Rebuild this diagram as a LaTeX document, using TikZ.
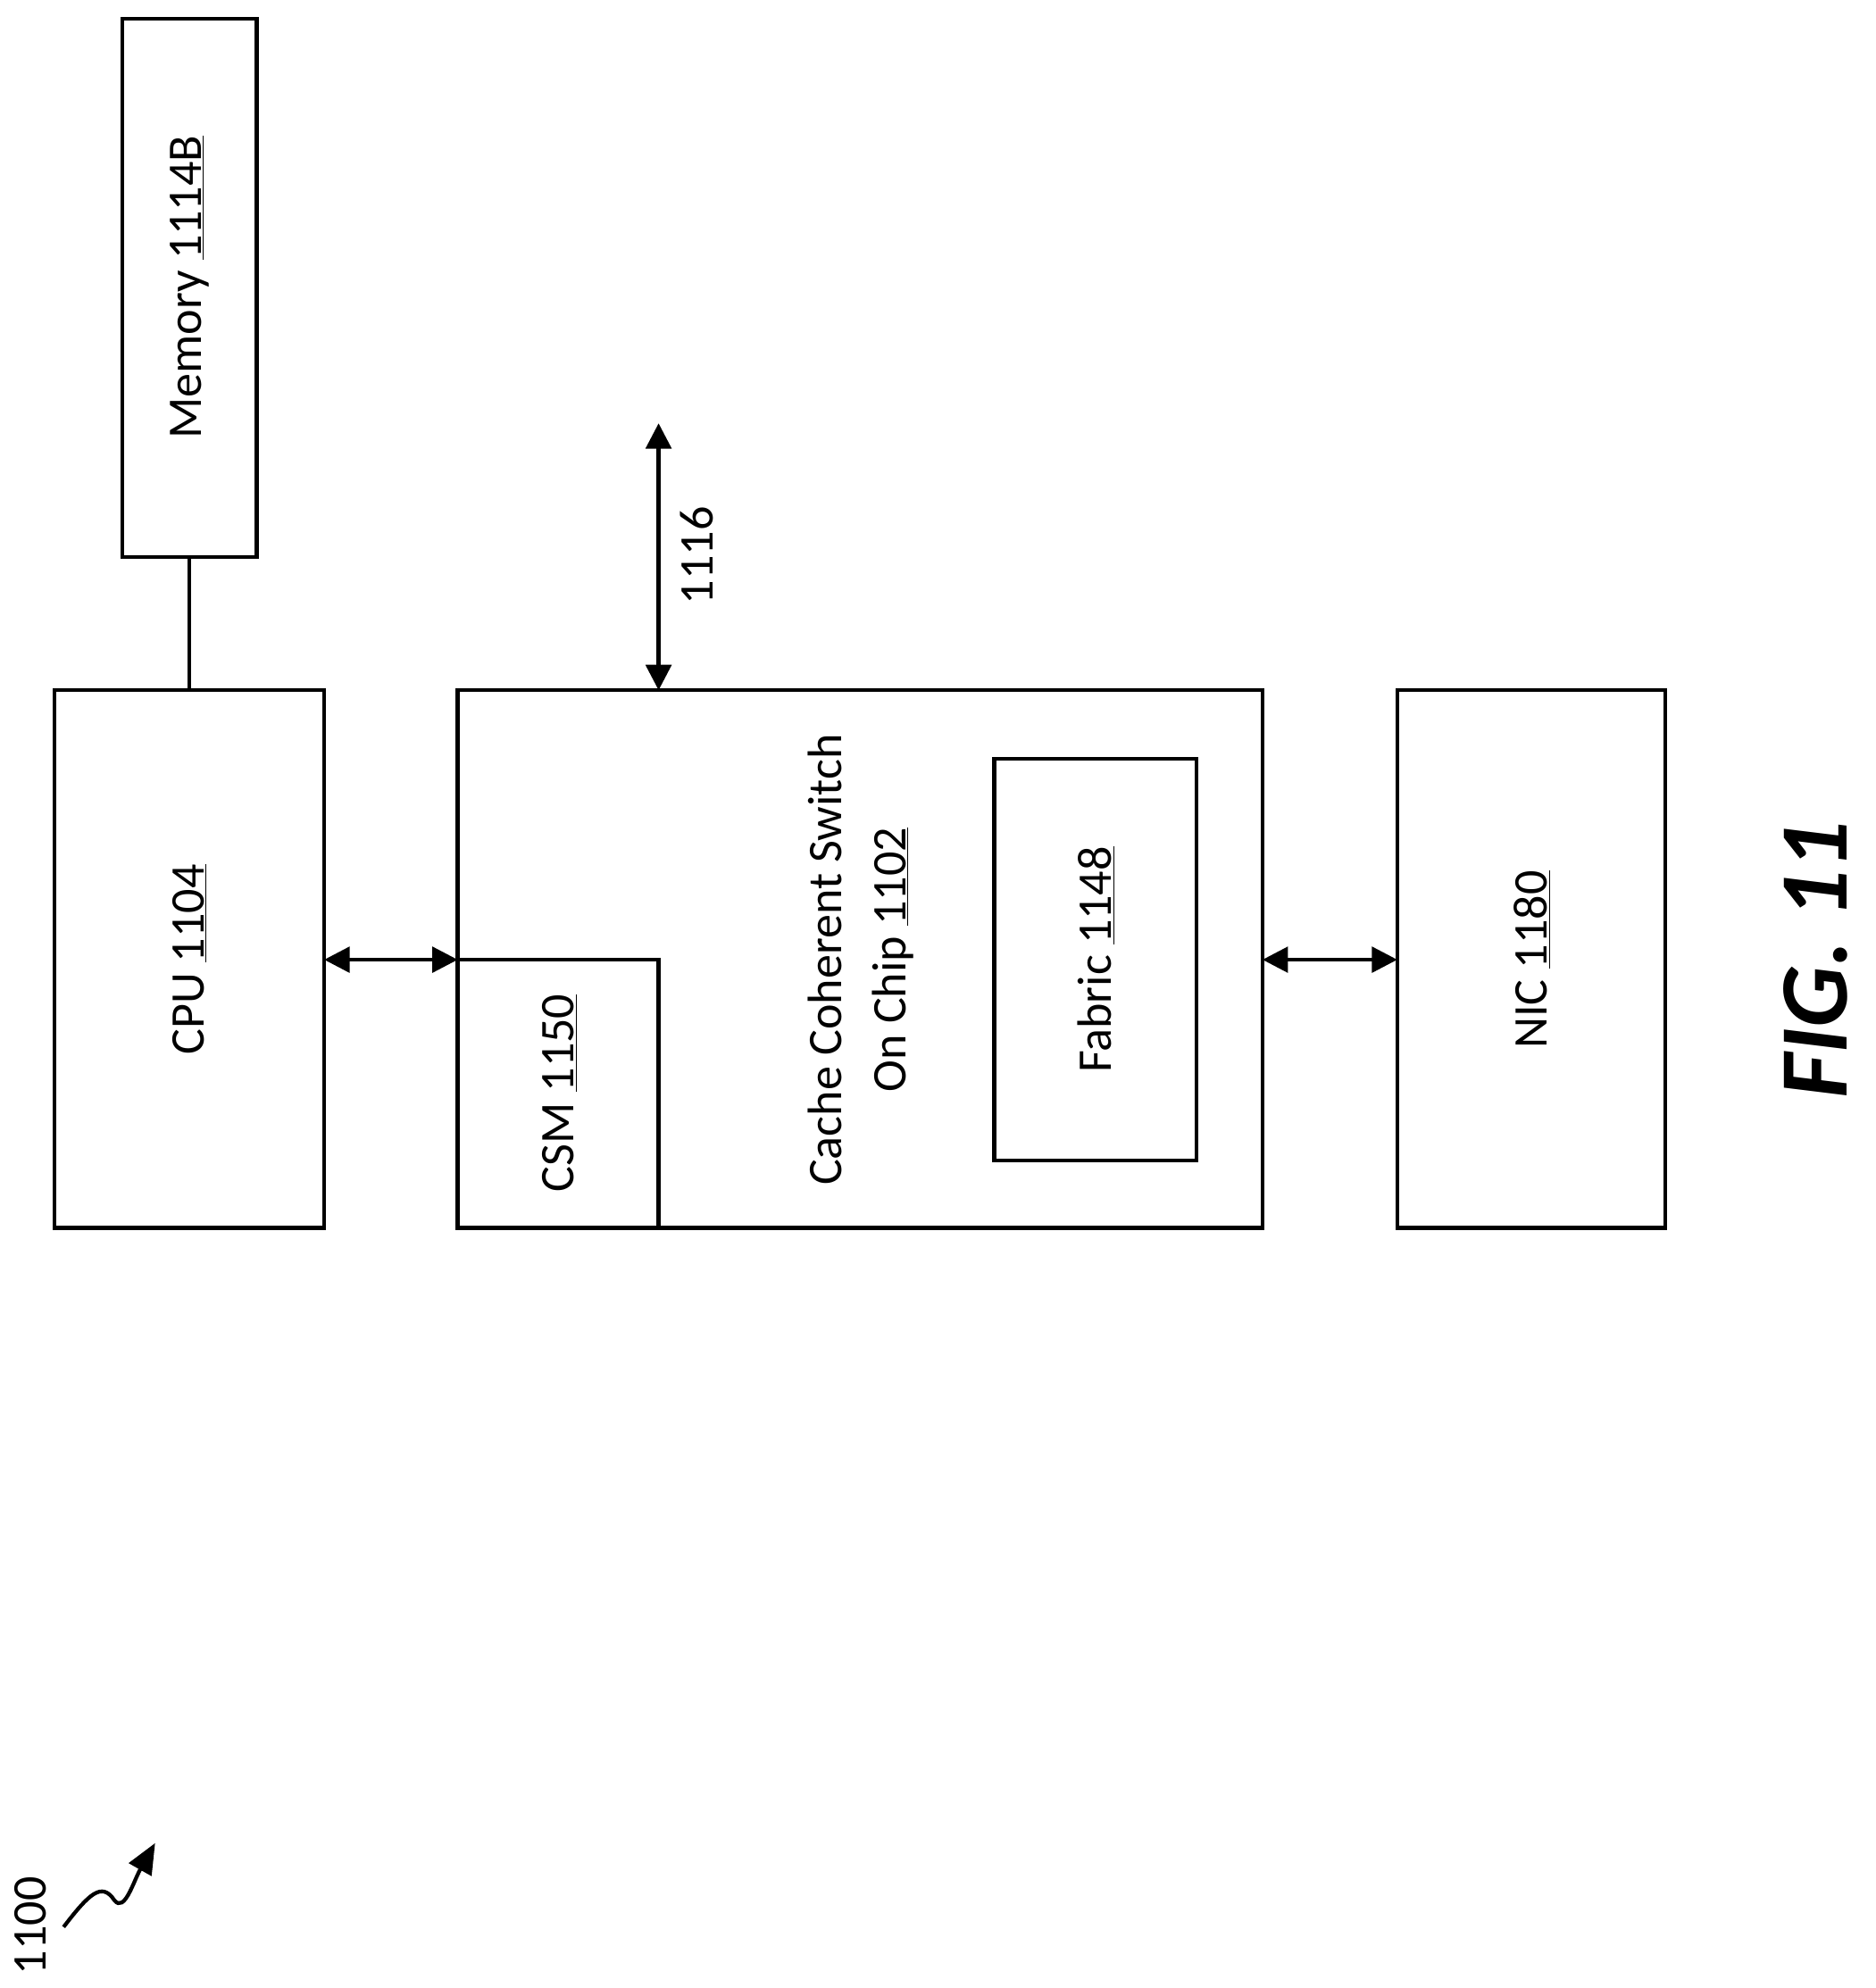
\documentclass[tikz,border=0pt]{standalone}
\usepackage{fontspec}
\setmainfont{Carlito}
\usetikzlibrary{arrows.meta}
\begin{document}
\begin{tikzpicture}[x=1pt,y=-1pt,
  box/.style={draw,line width=3pt},
  lbl/.style={rotate=90,font=\fontsize{38}{50}\selectfont,align=center},
  dbl/.style={line width=3pt,{Triangle[length=20pt,width=20pt]}-{Triangle[length=20pt,width=20pt]}}]
\useasboundingbox (0,0) rectangle (1475,1564);
\draw[box] (96,15) rectangle (202,438);
\coordinate (memb) at (149,438);
\node[lbl] (mem) at (149,226) {Memory \underline{1114B}};
\draw[box] (43,543) rectangle (255,966);
\coordinate (cput) at (149,543);
\coordinate (cpur) at (255,755);
\node[lbl] (cpu) at (149,755) {CPU \underline{1104}};
\draw[box] (360,543) rectangle (993,966);
\coordinate (swl) at (360,755);
\coordinate (swr) at (993,755);
\coordinate (swt) at (518,543);
\node[lbl] (sw) at (677,755) {Cache Coherent Switch\\On Chip \underline{1102}};
\draw[line width=3pt] (360,755) -- (518,755) -- (518,966);
\node[lbl] (csm) at (440,860) {CSM \underline{1150}};
\draw[box] (782,597) rectangle (941,913);
\node[lbl] (fab) at (862,755) {Fabric \underline{1148}};
\draw[box] (1099,543) rectangle (1310,966);
\coordinate (nicl) at (1099,755);
\node[lbl] (nic) at (1205,755) {NIC \underline{1180}};
\draw[line width=3pt] (memb) -- (cput);
\draw[dbl] (cpur) -- (swl);
\draw[dbl] (swr) -- (nicl);
\coordinate (ext) at (518,333);
\draw[dbl] (ext) -- (swt);
\node[lbl] (l1116) at (548,437) {1116};
\node[rotate=90,font=\fontsize{76}{90}\selectfont\bfseries\itshape] (fig) at (1428,755) {FIG. 11};
\node[lbl] (l1100) at (24,1515) {1100};
\coordinate (sq0) at (50,1516);
\coordinate (sq1) at (122,1450);
\draw[line width=3pt,-{Triangle[length=24pt,width=20pt]}] (sq0) .. controls (70,1490) and (80,1480) .. (90,1495) .. controls (98,1505) and (105,1480) .. (sq1);
\end{tikzpicture}
\end{document}
